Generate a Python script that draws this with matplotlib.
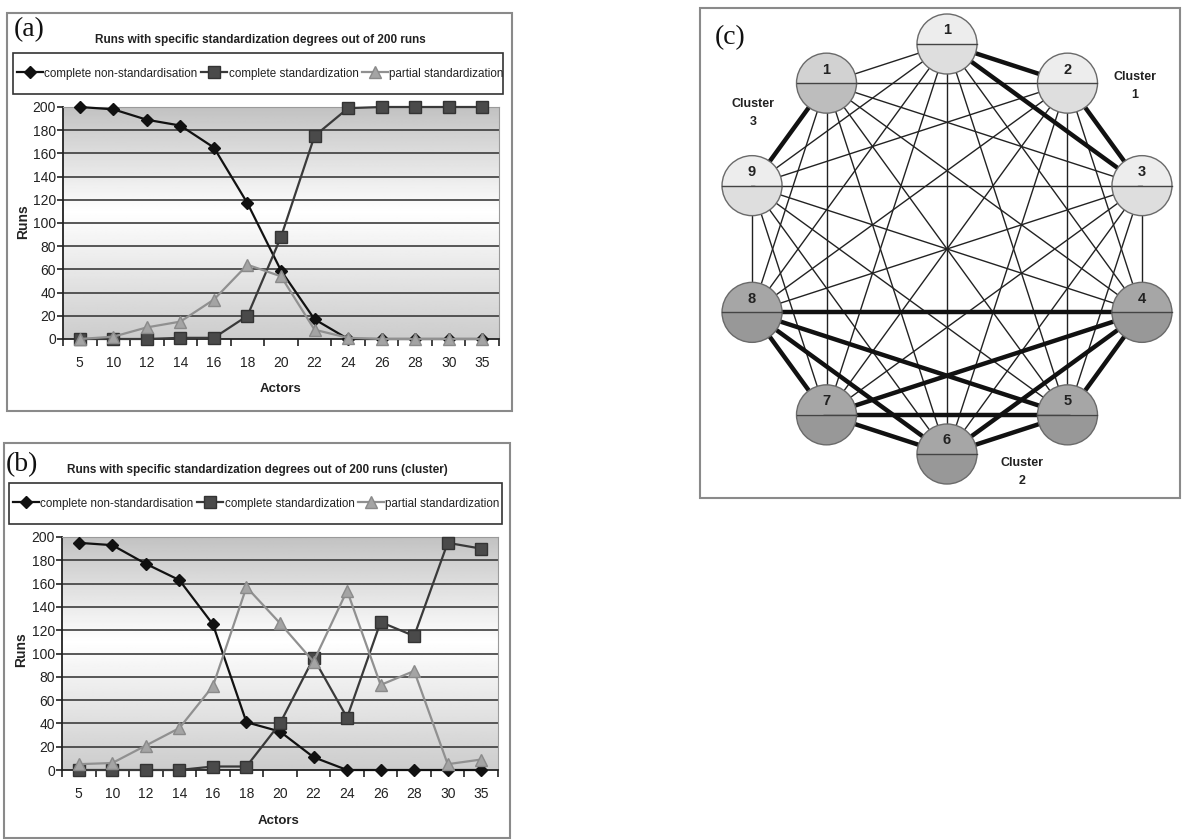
import numpy as np
import matplotlib
matplotlib.use("Agg")
import matplotlib.pyplot as plt
from matplotlib.patches import Rectangle, Circle, Wedge

W, H = 1182, 840

# data
actors = ["5", "10", "12", "14", "16", "18", "20", "22", "24", "26", "28", "30", "35"]
series_names = ["complete non-standardisation", "complete standardization", "partial standardization"]

a_non = [200, 198, 189, 184, 165, 117, 59, 17, 0, 0, 0, 0, 0]
a_full = [0, 0, 0, 1, 1, 20, 88, 175, 199, 200, 200, 200, 200]
a_part = [0, 2, 10, 15, 34, 64, 54, 8, 1, 0, 0, 0, 0]

b_non = [195, 193, 177, 163, 125, 41, 33, 11, 0, 0, 0, 0, 0]
b_full = [0, 0, 0, 0, 3, 3, 40, 96, 45, 127, 115, 195, 190]
b_part = [5, 6, 21, 36, 72, 157, 126, 93, 154, 73, 85, 5, 9]

# network of panel (c), nodes clockwise from the top
node_labels = ["1", "2", "3", "4", "5", "6", "7", "8", "9", "1"]
node_shade = ["light", "light", "light", "dark", "dark", "dark", "dark", "dark", "light", "mid"]
clusters = [[0, 1, 2], [3, 4, 5, 6, 7], [8, 9]]
cluster_names = ["Cluster\n1", "Cluster\n2", "Cluster\n3"]

SANS = ["Liberation Sans", "DejaVu Sans"]
SERIF = ["Liberation Serif", "DejaVu Serif"]
plt.rcParams["font.family"] = SANS

styles = [
    dict(color="#111111", marker="D", ms=6, mfc="#111111", mec="#111111", lw=1.6),
    dict(color="#3a3a3a", marker="s", ms=8, mfc="#4a4a4a", mec="#333333", lw=1.6),
    dict(color="#909090", marker="^", ms=8, mfc="#a4a4a4", mec="#8a8a8a", lw=1.6),
]


def px_rect(x0, y0, x1, y1):
    return [x0 / W, 1 - y1 / H, (x1 - x0) / W, (y1 - y0) / H]


fig = plt.figure(figsize=(W / 100, H / 100), dpi=100)
ov = fig.add_axes([0, 0, 1, 1])
ov.set_xlim(0, W)
ov.set_ylim(H, 0)
ov.axis("off")

# panel frames
for (x0, y0, x1, y1) in [(7, 13, 512, 411), (4, 443, 510, 838), (700, 8, 1180, 498)]:
    ov.add_patch(Rectangle((x0, y0), x1 - x0, y1 - y0, fill=False, ec="#8a8a8a", lw=1.5))


def draw_panel(box, legend_box, series, title, title_xy, tag_xy, tag, ylab_xy, xlab_xy):
    ax = fig.add_axes(px_rect(*box))
    x = np.arange(len(actors))
    ax.set_xlim(-0.5, len(actors) - 0.5)
    ax.set_ylim(0, 200)
    yy = np.linspace(0, 200, 200)
    shade = np.where(yy > 110, 1 - 0.24 * (yy - 110) / 90, 1 - 0.2 * (110 - yy) / 110)
    ax.imshow(shade[:, None], extent=[-0.5, len(actors) - 0.5, 0, 200], aspect="auto",
              cmap="gray", vmin=0, vmax=1, origin="lower", zorder=0)
    for v in range(20, 201, 20):
        ax.axhline(v, color="#3c3c3c", lw=1.2, zorder=1)
    handles = []
    for vals, st, name in zip(series, styles, series_names):
        ln, = ax.plot(x, vals, zorder=3, clip_on=False, label=name, **st)
        handles.append(ln)
    ax.set_xticks(x)
    ax.set_xticklabels(actors)
    ax.set_xticks(np.arange(-0.5, len(actors)), minor=True)
    ax.tick_params(axis="x", which="major", length=0, pad=12, labelsize=10, labelcolor="#222222")
    ax.tick_params(axis="x", which="minor", length=5, width=1.2, color="#222222")
    ax.set_yticks(range(0, 201, 20))
    ax.tick_params(axis="y", length=4, width=1.2, color="#222222", labelsize=10, pad=1,
                   labelcolor="#222222")
    for s in ["top", "right"]:
        ax.spines[s].set_color("#9a9a9a")
    for s in ["left", "bottom"]:
        ax.spines[s].set_color("#222222")
        ax.spines[s].set_linewidth(1.3)

    # legend with its own frame
    lx0, ly0, lx1, ly1 = legend_box
    ov.add_patch(Rectangle((lx0, ly0), lx1 - lx0, ly1 - ly0, fill=False, ec="#333333", lw=1.2))
    leg = ax.legend(handles=handles, ncol=3, loc="center left",
                    bbox_to_anchor=((lx0 + 4) / W, 1 - (ly0 + ly1) / 2 / H),
                    bbox_transform=fig.transFigure, fontsize=8.4, handlelength=2.2,
                    handletextpad=0.15, columnspacing=0.3, borderaxespad=0, borderpad=0,
                    frameon=False)
    for t in leg.get_texts():
        t.set_color("#222222")

    ov.text(*title_xy, title, ha="center", va="center", fontsize=8.5, fontweight="bold", color="#222222")
    ov.text(*tag_xy, tag, ha="left", va="center", fontsize=20, family=SERIF, color="#111111")
    ov.text(*ylab_xy, "Runs", ha="center", va="center", rotation=90, fontsize=10,
            fontweight="bold", color="#222222")
    ov.text(*xlab_xy, "Actors", ha="center", va="center", fontsize=9.5, fontweight="bold",
            color="#222222")
    return ax


draw_panel((63, 107, 499, 339), (13, 53, 503, 94), [a_non, a_full, a_part],
           "Runs with specific standardization degrees out of 200 runs",
           (260, 40), (14, 30), "(a)", (23, 222), (281, 389))
draw_panel((62, 537, 498, 770), (9, 483, 502, 524), [b_non, b_full, b_part],
           "Runs with specific standardization degrees out of 200 runs (cluster)",
           (257, 470), (6, 465), "(b)", (21, 650), (279, 821))

# panel (c): network
nx = fig.add_axes(px_rect(700, 8, 1180, 498))
nx.set_xlim(-247 / 205, 233 / 205)
nx.set_ylim(-249 / 205, 241 / 205)
nx.axis("off")
n = len(node_labels)
ang = np.deg2rad(90 - 360 / n * np.arange(n))
px, py = np.cos(ang), np.sin(ang)
thick = set()
for c in clusters:
    for i in c:
        for j in c:
            if i < j:
                thick.add((i, j))
for i in range(n):
    for j in range(i + 1, n):
        if (i, j) in thick:
            nx.plot([px[i], px[j]], [py[i], py[j]], color="#111111", lw=3.2, zorder=2,
                    solid_capstyle="butt")
        else:
            nx.plot([px[i], px[j]], [py[i], py[j]], color="#222222", lw=1.0, zorder=1)
shades = {"light": ("#ededed", "#dedede"), "mid": ("#d2d2d2", "#bdbdbd"), "dark": ("#a6a6a6", "#989898")}
r = 30 / 205
for i in range(n):
    up, lo = shades[node_shade[i]]
    nx.add_patch(Wedge((px[i], py[i]), r, 0, 180, fc=up, ec="none", zorder=4))
    nx.add_patch(Wedge((px[i], py[i]), r, 180, 360, fc=lo, ec="none", zorder=4))
    nx.add_patch(Circle((px[i], py[i]), r, fc="none", ec="#6a6a6a", lw=1.0, zorder=5))
    nx.plot([px[i] - r, px[i] + r], [py[i], py[i]], color="#444444", lw=1.0, zorder=5)
    nx.text(px[i], py[i] + 0.45 * r, node_labels[i], ha="center", va="center", fontsize=10.5,
            fontweight="bold", color="#222222", zorder=6)
for name, (cx, cy) in zip(cluster_names, [(0.917, 0.795), (0.366, -1.088), (-0.946, 0.663)]):
    nx.text(cx, cy, name, ha="center", va="center", fontsize=9, fontweight="bold",
            color="#222222", linespacing=1.6)
ov.text(715, 38, "(c)", ha="left", va="center", fontsize=20, family=SERIF, color="#111111")

fig.savefig("out.png", dpi=100)
